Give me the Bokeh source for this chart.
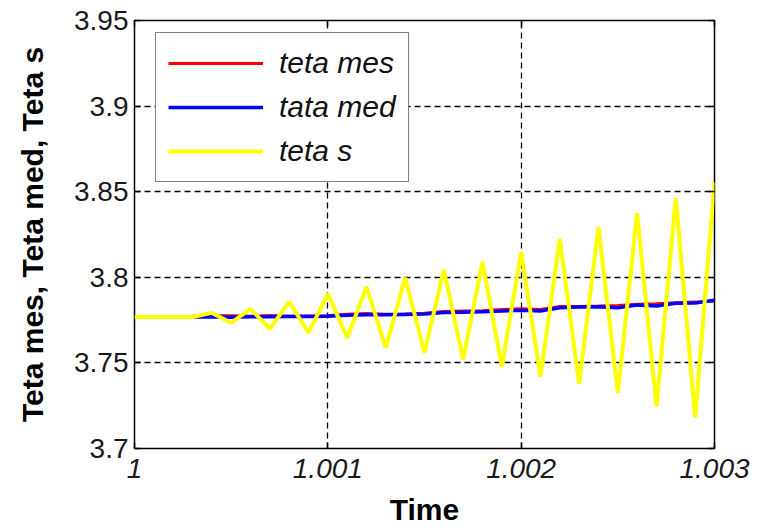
from bokeh.plotting import figure
from bokeh.models import Range1d, FixedTicker, LinearAxis, Legend, LegendItem, CustomJSTickFormatter
from bokeh.embed import file_html
from bokeh.resources import INLINE

# ---- data ----
time = [1.0000, 1.0001, 1.0002, 1.0003, 1.0004, 1.0005, 1.0006, 1.0007, 1.0008, 1.0009,
        1.0010, 1.0011, 1.0012, 1.0013, 1.0014, 1.0015, 1.0016, 1.0017, 1.0018, 1.0019,
        1.0020, 1.0021, 1.0022, 1.0023, 1.0024, 1.0025, 1.0026, 1.0027, 1.0028, 1.0029,
        1.0030]
teta_s = [3.7768, 3.7768, 3.7768, 3.7768, 3.7792, 3.7734, 3.7816, 3.7699, 3.7857, 3.7676,
          3.7903, 3.7647, 3.7944, 3.7589, 3.7997, 3.7560, 3.8043, 3.7519, 3.8090, 3.7478,
          3.8148, 3.7420, 3.8224, 3.7379, 3.8294, 3.7326, 3.8375, 3.7245, 3.8463, 3.7181,
          3.8556]
time_m = [1.0002, 1.0003, 1.0004, 1.0005, 1.0006, 1.0007, 1.0008, 1.0009, 1.0010, 1.0011,
          1.0012, 1.0013, 1.0014, 1.0015, 1.0016, 1.0017, 1.0018, 1.0019, 1.0020, 1.0021,
          1.0022, 1.0023, 1.0024, 1.0025, 1.0026, 1.0027, 1.0028, 1.0029, 1.0030]
teta_mes = [3.7770, 3.7772, 3.7775, 3.7776, 3.7772, 3.7777, 3.7772, 3.7774, 3.7776, 3.7784,
            3.7788, 3.7784, 3.7785, 3.7790, 3.7800, 3.7803, 3.7805, 3.7812, 3.7816, 3.7812,
            3.7830, 3.7830, 3.7832, 3.7836, 3.7842, 3.7846, 3.7852, 3.7855, 3.7862]
tata_med = [3.7768, 3.7768, 3.7768, 3.7767, 3.7770, 3.7770, 3.7771, 3.7771, 3.7772, 3.7778,
            3.7781, 3.7781, 3.7783, 3.7785, 3.7795, 3.7796, 3.7799, 3.7803, 3.7808, 3.7803,
            3.7822, 3.7826, 3.7828, 3.7822, 3.7838, 3.7832, 3.7848, 3.7850, 3.7866]
x_ticks = [1.0, 1.001, 1.002, 1.003]
x_labels = ["1", "1.001", "1.002", "1.003"]
y_ticks = [3.7, 3.75, 3.8, 3.85, 3.9, 3.95]
y_labels = ["3.7", "3.75", "3.8", "3.85", "3.9", "3.95"]
series_names = ["teta mes", "tata med", "teta s"]

FONT = "Liberation Sans"

p = figure(width=763, height=528, output_backend="svg", toolbar_location=None,
           x_range=Range1d(1.0, 1.003), y_range=Range1d(3.7, 3.95),
           min_border_left=134, min_border_right=49, min_border_top=20, min_border_bottom=79)
p.background_fill_color = "white"
p.border_fill_color = "white"
p.outline_line_color = "black"
p.outline_line_width = 1.5

r_mes = p.line(time_m, teta_mes, line_color="#FF0000", line_width=3)
r_med = p.line(time_m, tata_med, line_color="#0000FF", line_width=3.5)
r_s = p.line(time, teta_s, line_color="#FFFF00", line_width=4)

# axes styling
for ax in (p.xaxis[0], p.yaxis[0]):
    ax.major_tick_in = 6
    ax.major_tick_out = 0
    ax.minor_tick_in = 0
    ax.minor_tick_out = 0
    ax.axis_line_color = None
    ax.major_tick_line_color = "black"
    ax.major_tick_line_width = 1.5
    ax.major_label_text_font = FONT
    ax.major_label_text_font_size = "28px"
    ax.major_label_text_color = "#1a1a1a"
    ax.axis_label_text_font = FONT
    ax.axis_label_text_font_size = "30px"
    ax.axis_label_text_font_style = "bold"
    ax.axis_label_text_color = "black"

p.xaxis[0].ticker = FixedTicker(ticks=x_ticks)
p.xaxis[0].major_label_overrides = dict(zip(x_ticks, x_labels))
p.xaxis[0].major_label_text_font_style = "italic"
p.xaxis[0].major_label_standoff = 10
p.xaxis[0].axis_label = "Time"
p.xaxis[0].axis_label_standoff = 12

p.yaxis[0].ticker = FixedTicker(ticks=y_ticks)
p.yaxis[0].major_label_overrides = dict(zip(y_ticks, y_labels))
p.yaxis[0].major_label_standoff = 6
p.yaxis[0].axis_label = "Teta mes, Teta med, Teta s"
p.yaxis[0].axis_label_standoff = 22

# mirrored ticks (box on), without labels
blank = CustomJSTickFormatter(code="return '';")
top_ax = LinearAxis(ticker=FixedTicker(ticks=x_ticks), formatter=blank,
                    major_tick_in=6, major_tick_out=0, minor_tick_in=0, minor_tick_out=0,
                    axis_line_color=None, major_tick_line_width=1.5, major_label_standoff=0)
right_ax = LinearAxis(ticker=FixedTicker(ticks=y_ticks), formatter=blank,
                      major_tick_in=6, major_tick_out=0, minor_tick_in=0, minor_tick_out=0,
                      axis_line_color=None, major_tick_line_width=1.5, major_label_standoff=0)
p.add_layout(top_ax, "above")
p.add_layout(right_ax, "right")

# grid
for g in (p.xgrid[0], p.ygrid[0]):
    g.grid_line_color = "black"
    g.grid_line_dash = "6 4"
    g.grid_line_width = 1.3
p.xgrid[0].ticker = FixedTicker(ticks=x_ticks)
p.ygrid[0].ticker = FixedTicker(ticks=y_ticks)

legend = Legend(items=[LegendItem(label=series_names[0], renderers=[r_mes]),
                       LegendItem(label=series_names[1], renderers=[r_med]),
                       LegendItem(label=series_names[2], renderers=[r_s])],
                location=(21, 266))
legend.border_line_color = "black"
legend.border_line_width = 1.5
legend.background_fill_color = "white"
legend.background_fill_alpha = 1
legend.label_text_font = FONT
legend.label_text_font_size = "30px"
legend.label_text_font_style = "italic"
legend.label_text_color = "#111111"
legend.glyph_width = 95
legend.glyph_height = 36
legend.label_height = 36
legend.spacing = 8
legend.padding = 12
legend.label_standoff = 16
p.add_layout(legend, "center")

open("out.html", "w").write(file_html(p, INLINE))
